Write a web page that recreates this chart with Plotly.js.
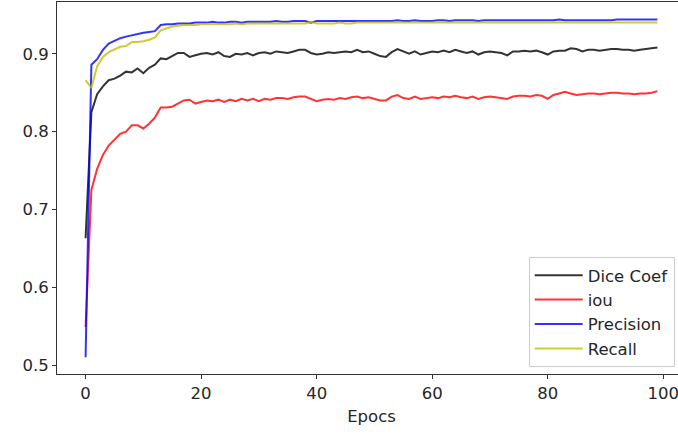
<!DOCTYPE html>
<html>
<head>
<meta charset="utf-8">
<script src="https://cdn.plot.ly/plotly-3.0.1.min.js"></script>
<style>
html,body{margin:0;padding:0;overflow:hidden;background:#fff;}
#chart{width:688px;height:434px;}
</style>
</head>
<body>
<div id="chart"></div>
<script>
const epochs = Array.from({length: 100}, (_, i) => i);

const diceCoef = [
0.663,0.825,0.848,0.858,0.866,0.868,0.872,0.877,0.876,0.881,
0.875,0.882,0.886,0.894,0.893,0.897,0.901,0.901,0.896,0.898,
0.900,0.901,0.899,0.902,0.897,0.896,0.900,0.899,0.901,0.898,
0.901,0.902,0.900,0.903,0.902,0.901,0.903,0.905,0.905,0.901,
0.899,0.900,0.902,0.901,0.902,0.903,0.902,0.905,0.902,0.903,
0.900,0.897,0.896,0.902,0.906,0.903,0.900,0.903,0.899,0.901,
0.903,0.902,0.904,0.902,0.905,0.903,0.901,0.903,0.899,0.902,
0.903,0.902,0.901,0.898,0.903,0.903,0.904,0.903,0.904,0.902,
0.899,0.903,0.904,0.904,0.907,0.906,0.903,0.905,0.905,0.904,
0.905,0.906,0.906,0.905,0.905,0.904,0.905,0.906,0.907,0.908
];

const iou = [
0.549,0.725,0.752,0.770,0.782,0.790,0.797,0.800,0.808,0.808,
0.804,0.810,0.818,0.831,0.831,0.832,0.836,0.840,0.841,0.836,
0.838,0.840,0.839,0.841,0.838,0.841,0.839,0.842,0.840,0.842,
0.839,0.842,0.841,0.843,0.843,0.842,0.844,0.845,0.845,0.842,
0.839,0.841,0.842,0.841,0.843,0.842,0.844,0.845,0.843,0.844,
0.842,0.840,0.840,0.845,0.847,0.843,0.842,0.845,0.842,0.843,
0.844,0.843,0.845,0.844,0.846,0.844,0.843,0.845,0.842,0.844,
0.845,0.844,0.843,0.842,0.845,0.846,0.846,0.845,0.847,0.846,
0.842,0.847,0.849,0.851,0.849,0.847,0.848,0.849,0.849,0.848,
0.849,0.850,0.850,0.849,0.849,0.848,0.849,0.849,0.850,0.852
];

const precision = [
0.510,0.886,0.893,0.905,0.913,0.917,0.920,0.922,0.924,0.926,
0.927,0.928,0.929,0.937,0.938,0.938,0.939,0.939,0.939,0.940,
0.940,0.940,0.941,0.940,0.940,0.941,0.941,0.940,0.941,0.941,
0.941,0.941,0.941,0.942,0.941,0.941,0.942,0.942,0.942,0.940,
0.942,0.942,0.942,0.942,0.942,0.942,0.942,0.942,0.942,0.942,
0.942,0.942,0.942,0.942,0.943,0.942,0.942,0.943,0.942,0.942,
0.942,0.943,0.943,0.942,0.943,0.943,0.943,0.943,0.942,0.943,
0.943,0.943,0.943,0.943,0.943,0.943,0.943,0.943,0.943,0.943,
0.943,0.943,0.944,0.943,0.943,0.943,0.943,0.943,0.943,0.943,
0.943,0.943,0.944,0.944,0.944,0.944,0.944,0.944,0.944,0.944
];

const recall = [
0.866,0.856,0.884,0.896,0.902,0.905,0.909,0.910,0.915,0.915,
0.916,0.918,0.921,0.930,0.933,0.935,0.936,0.937,0.937,0.937,
0.938,0.938,0.938,0.938,0.938,0.938,0.939,0.938,0.939,0.939,
0.939,0.939,0.939,0.939,0.939,0.939,0.939,0.939,0.939,0.941,
0.939,0.939,0.939,0.939,0.940,0.939,0.939,0.940,0.940,0.940,
0.940,0.940,0.940,0.940,0.940,0.940,0.940,0.940,0.940,0.940,
0.940,0.940,0.940,0.940,0.940,0.940,0.940,0.940,0.940,0.940,
0.940,0.940,0.940,0.940,0.940,0.940,0.940,0.940,0.940,0.940,
0.940,0.940,0.940,0.940,0.940,0.940,0.940,0.940,0.940,0.940,
0.940,0.940,0.940,0.940,0.940,0.940,0.940,0.940,0.940,0.940
];

const seriesNames = ["Dice Coef", "iou", "Precision", "Recall"];
const seriesColors = ["rgba(0,0,0,0.8)", "rgba(255,0,0,0.8)", "rgba(0,0,255,0.8)", "rgba(191,191,0,0.8)"];
const seriesData = [diceCoef, iou, precision, recall];

const xTicks = [0, 20, 40, 60, 80, 100];
const yTicks = [0.5, 0.6, 0.7, 0.8, 0.9];

const traces = seriesData.map((ys, i) => ({
  x: epochs, y: ys, type: "scatter", mode: "lines",
  name: seriesNames[i],
  line: {color: seriesColors[i], width: 2}
}));

const font = {family: "DejaVu Sans, sans-serif", size: 16.5, color: "#262626"};

const layout = {
  width: 688, height: 434,
  margin: {l: 57, r: 2, t: 2, b: 60},
  paper_bgcolor: "#fff", plot_bgcolor: "#fff",
  font: font,
  showlegend: true,
  legend: {
    x: 0.982, y: 0.019, xanchor: "right", yanchor: "bottom",
    bgcolor: "rgba(255,255,255,0.9)", bordercolor: "#cccccc", borderwidth: 1,
    font: font, tracegroupgap: 0, itemwidth: 48
  },
  xaxis: {
    range: [-4.95, 103.95],
    tickvals: xTicks, ticktext: xTicks.map(String),
    showgrid: false, zeroline: false,
    showline: true, mirror: true, linecolor: "#333", linewidth: 1,
    ticks: "outside", ticklen: 4, tickcolor: "#333",
    tickfont: font,
    title: {text: "Epocs", font: font, standoff: 8}
  },
  yaxis: {
    range: [0.4885, 0.9665],
    tickvals: yTicks, ticktext: yTicks.map(v => v.toFixed(1)),
    showgrid: false, zeroline: false,
    showline: true, mirror: true, linecolor: "#333", linewidth: 1,
    ticks: "outside", ticklen: 4, tickcolor: "#333",
    tickfont: font
  }
};

Plotly.newPlot("chart", traces, layout, {displayModeBar: false, staticPlot: true});
</script>
</body>
</html>
